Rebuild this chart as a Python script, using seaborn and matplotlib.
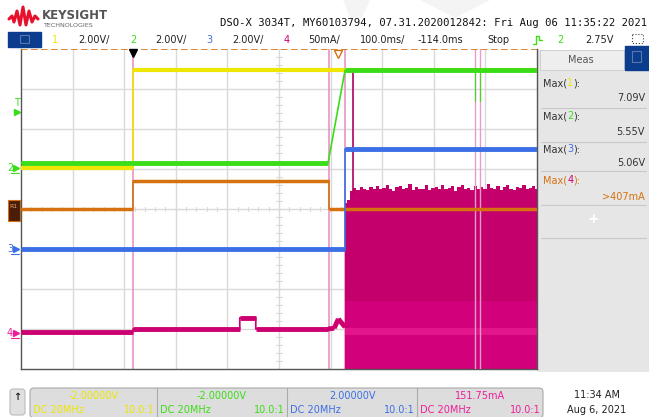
import matplotlib
matplotlib.use("Agg")
import matplotlib.pyplot as plt
from matplotlib.patches import Rectangle, FancyBboxPatch, Polygon
import numpy as np
import pandas as pd
import seaborn as sns

# ---- data (time in ms from trigger, level in screen divisions) ----
ch1_t = [-217, 0, 0, 783]
ch1_v = [1.02, 1.02, 3.47, 3.47]

ch2_t = [-217, 378, 411, 783]
ch2_v = [1.15, 1.15, 3.47, 3.47]

ch3_t = [-217, 411, 411, 783]
ch3_v = [-1.0, -1.0, 1.5, 1.5]

ref1_t = [-217, 0, 0, 380, 380, 783]
ref1_v = [0.0, 0.0, 0.7, 0.7, 0.0, 0.0]

ch4_t = [-217, 0, 0, 207, 207, 238, 238, 378, 390, 398, 411]
ch4_v = [-3.08, -3.08, -3.0, -3.0, -2.72, -2.72, -3.0, -3.0, -2.98, -2.75, -2.95]

# upper envelope of the noisy ch4 burst after t=411 ms
ch4_env = [0.15, 0.22, 0.45, 0.52, 0.48, 0.56, 0.50, 0.47, 0.55, 0.51, 0.58, 0.49,
           0.53, 0.60, 0.50, 0.46, 0.54, 0.57, 0.49, 0.52, 0.62, 0.48, 0.55, 0.51,
           0.50, 0.59, 0.47, 0.53, 0.56, 0.50, 0.61, 0.49, 0.52, 0.57, 0.46, 0.54,
           0.60, 0.50, 0.53, 0.48, 0.58, 0.51, 0.55, 0.49, 0.62, 0.52, 0.50, 0.57,
           0.47, 0.54, 0.59, 0.51, 0.48, 0.56, 0.53, 0.60, 0.50, 0.52, 0.58, 0.49]
ch4_env_t = np.linspace(411, 783, len(ch4_env))

edge_t = [0, 380, 411]          # pink edge markers
glitch_t = [663, 672]           # glitches near end

meas_names = ["1", "2", "3", "4"]
meas_vals = ["7.09V", "5.55V", "5.06V", ">407mA"]

scales = ["2.00V/", "2.00V/", "2.00V/", "50mA/"]
offsets = ["-2.00000V", "-2.00000V", "2.00000V", "151.75mA"]

YEL, GRN, BLU, MAG, ORG = "#EEE600", "#3BDC18", "#3C6FE6", "#CC0070", "#D5720F"
ch_colors = [YEL, GRN, BLU, MAG]
GRID = "#D9D9D9"

sns.set_style("white")
plt.rcParams["font.family"] = ["DejaVu Sans"]

fig = plt.figure(figsize=(6.49, 4.17), dpi=100)

# overlay for the instrument chrome, in pixel coords
ov = fig.add_axes([0, 0, 1, 1])
ov.set_xlim(0, 649)
ov.set_ylim(417, 0)
ov.axis("off")

# watermark shapes
ov.add_patch(Polygon([[343, 0], [370, 0], [362, 18], [350, 18]], color="#F4F4F4", lw=0))
ov.add_patch(Polygon([[420, 0], [490, 0], [455, 18]], color="#F4F4F4", lw=0))

# logo
ov.plot([9, 12, 14, 17, 20, 23, 26, 29, 32, 35, 38],
        [19, 16, 22, 11, 25, 7, 25, 11, 22, 16, 19], color="#E8112D", lw=2.2,
        solid_joinstyle="round")
ov.text(42, 15, "KEYSIGHT", fontsize=8.5, fontweight="bold", color="#555555", va="center")
ov.text(43, 25, "TECHNOLOGIES", fontsize=4.6, color="#666666", va="center")

ov.text(220, 23, "DSO-X 3034T, MY60103794, 07.31.2020012842: Fri Aug 06 11:35:22 2021",
        family="DejaVu Sans Mono", fontsize=7.6, color="#111111", va="center")

# top status row
ov.add_patch(Rectangle((8, 32), 33, 15, color="#0B3C8E"))
ov.add_patch(Rectangle((20, 35), 9, 8, fill=False, ec="#5A78A8", lw=0.8))
row_y = 40
for num, x_num, sc, x_sc, c in zip(meas_names, [55, 133, 209, 287], scales,
                                   [94, 171, 248, 324], ch_colors):
    ov.text(x_num, row_y, num, color=c, fontsize=7, ha="center", va="center")
    ov.text(x_sc, row_y, sc, color="#222222", fontsize=7, ha="center", va="center")
ov.text(383, row_y, "100.0ms/", fontsize=7, ha="center", va="center", color="#222222")
ov.text(440, row_y, "-114.0ms", fontsize=7, ha="center", va="center", color="#222222")
ov.text(498, row_y, "Stop", fontsize=7, ha="center", va="center", color="#222222")
ov.plot([533, 536, 536, 539, 539, 542], [44, 44, 36, 36, 40, 40], color=GRN, lw=1)
ov.text(560, row_y, "2", fontsize=7, ha="center", va="center", color=GRN)
ov.text(599, row_y, "2.75V", fontsize=7, ha="center", va="center", color="#222222")
ov.add_patch(Rectangle((632, 34), 11, 9, fill=False, ec="#444444", lw=0.8, ls=":"))

# right measurement panel
ov.add_patch(Rectangle((538, 50), 111, 322, color="#E6E6E6", lw=0))
ov.add_patch(Rectangle((540, 50), 84, 20, color="#EEEEEE", ec="#CCCCCC", lw=0.6))
ov.text(581, 60, "Meas", fontsize=7, ha="center", va="center", color="#555555")
ov.add_patch(Rectangle((625, 46), 24, 24, color="#0B3C8E"))
ov.add_patch(Rectangle((632, 51), 9, 11, fill=False, ec="#5A78A8", lw=0.8))

renderer = fig.canvas.get_renderer()


def chain_text(x, y, parts):
    # draw coloured pieces one after another on a line
    for s, c in parts:
        t = ov.text(x, y, s, fontsize=7, va="center", color=c)
        bb = t.get_window_extent(renderer=renderer)
        x += bb.width * 649 / fig.bbox.width


name_y = [83, 116, 149, 180]
val_y = [98, 132, 163, 197]
for i, (n, v) in enumerate(zip(meas_names, meas_vals)):
    tc = ORG if i == 3 else "#333333"
    chain_text(543, name_y[i], [("Max(", tc), (n, ch_colors[i]), ("):", tc)])
    ov.text(645, val_y[i], v, fontsize=7, va="center", ha="right", color=tc)
for sy in [108, 142, 171, 205, 238]:
    ov.plot([541, 646], [sy, sy], color="#C8C8C8", lw=0.8)
ov.text(593, 219, "+", fontsize=10, fontweight="bold", ha="center", va="center",
        color="#FFFFFF")

# left channel markers
ov.text(17, 103, "T", fontsize=7, color=GRN, ha="center", va="center")
ov.plot([17], [112], marker=">", color=GRN, ms=4)
for lbl, yy, c in [("2", 168, GRN), ("3", 249, BLU), ("4", 333, "#EE1E9A")]:
    ov.text(10, yy, lbl, fontsize=7, color=c, ha="center", va="center")
    ov.plot([16], [yy], marker=">", color=c, ms=4)
    ov.plot([11, 19], [yy + 5, yy + 5], color=c, lw=0.8)
ov.add_patch(Rectangle((8, 200), 12, 21, color="#4A1E06", ec=ORG, lw=0.8))
ov.text(13, 206, "R1", fontsize=4.5, color="#E0A070", ha="center", va="center")

# bottom channel boxes
ov.add_patch(FancyBboxPatch((10, 389), 15, 26, boxstyle="round,pad=0,rounding_size=3",
                            fc="#E0E0E0", ec="#BBBBBB", lw=0.8))
ov.text(17.5, 397, "\u2191", fontsize=7, fontweight="bold", ha="center", va="center")
ov.add_patch(FancyBboxPatch((30, 388), 513, 30, boxstyle="round,pad=0,rounding_size=4",
                            fc="#DDDDDD", ec="#AAAAAA", lw=0.8))
box_x = [30, 157, 287, 417, 543]
for i in range(4):
    x0, x1 = box_x[i], box_x[i + 1]
    if i:
        ov.plot([x0, x0], [388, 417], color="#AAAAAA", lw=0.8)
    c = ch_colors[i] if i != 3 else "#EE1E9A"
    ov.text((x0 + x1) / 2, 396, offsets[i], fontsize=7, ha="center", va="center", color=c)
    ov.text(x0 + 3, 410, "DC 20MHz", fontsize=7, va="center", color=c)
    ov.text(x1 - 2, 410, "10.0:1", fontsize=7, va="center", ha="right", color=c)
ov.text(597, 395, "11:34 AM", fontsize=7, ha="center", va="center", color="#222222")
ov.text(597, 410, "Aug 6, 2021", fontsize=7, ha="center", va="center", color="#222222")

# ---- scope graticule ----
ax = fig.add_axes([21 / 649, (417 - 369) / 417, 516 / 649, 320 / 417])
ax.set_xlim(-217, 783)
ax.set_ylim(-4, 4)
ax.set_facecolor("white")
for k in range(1, 10):
    ax.axvline(-217 + k * 100, color=GRID, lw=1, zorder=0)
for k in range(-3, 4):
    ax.axhline(k, color=GRID, lw=1, zorder=0)
for k in range(-20, 21):
    ax.plot([283 - 6, 283 + 6], [k * 0.2, k * 0.2], color=GRID, lw=0.8, zorder=0)
for k in range(50):
    ax.plot([-217 + k * 20] * 2, [-0.06, 0.06], color=GRID, lw=0.8, zorder=0)
ax.set_xticks([])
ax.set_yticks([])
for s in ["left", "right", "bottom"]:
    ax.spines[s].set_color("#555555")
    ax.spines[s].set_linewidth(1)
ax.spines["top"].set_visible(False)
ax.axhline(3.99, color=ORG, lw=1.2, ls=(0, (4, 2)), zorder=6)

# edge markers
for t in edge_t:
    ax.axvline(t, color="#E58AC0", lw=1.1, zorder=1)

# noisy ch4 burst
ax.fill_between(ch4_env_t, -4.2, ch4_env, step="mid", color="#C4006C", lw=0, zorder=2)
ax.fill_between(ch4_env_t, -4.2, -2.3, color="#D2007A", lw=0, zorder=2)
ax.fill_between(ch4_env_t, -3.15, -2.98, color="#E3158C", lw=0, zorder=2)
ax.plot([426, 426], [0.4, 3.4], color="#B0005E", lw=1.2, zorder=2)
for t in glitch_t:
    ax.axvline(t, color="#EA9AC8", lw=1.0, zorder=3)


def trace(t, v, color, thick, z, slopes_thick=False):
    # thin edges through seaborn, thick flat parts on top
    sns.lineplot(x=t, y=v, estimator=None, sort=False, color=color, lw=1.2,
                 ax=ax, zorder=z)
    for i in range(len(t) - 1):
        flat = v[i] == v[i + 1]
        slope = slopes_thick and t[i] != t[i + 1]
        if flat or slope:
            ax.plot([t[i], t[i + 1]], [v[i], v[i + 1]], color=color, lw=thick,
                    solid_capstyle="butt", zorder=z)


trace(ch4_t, ch4_v, MAG, 3.5, 3, slopes_thick=True)
trace(ref1_t, ref1_v, ORG, 2.5, 4)
trace(ch3_t, ch3_v, BLU, 3.5, 4)
trace(ch1_t, ch1_v, YEL, 3.0, 4)
trace(ch2_t, ch2_v, GRN, 3.5, 5)
for t in glitch_t:
    ax.plot([t, t], [2.7, 3.47], color=GRN, lw=0.8, zorder=5)
ax.set_xlabel("")
ax.set_ylabel("")

# trigger / level markers on the top edge
ax.plot([0], [3.9], marker="v", color="black", ms=6, zorder=7, clip_on=False)
ax.plot([397], [3.88], marker="v", mfc="none", mec=ORG, ms=6, zorder=7, clip_on=False)

fig.savefig("out.png", dpi=100)
